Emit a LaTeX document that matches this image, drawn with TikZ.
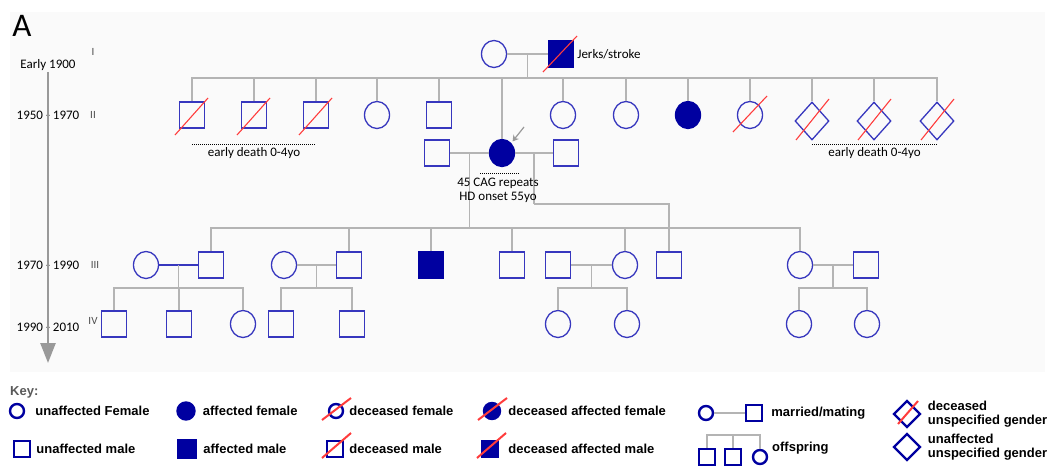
\documentclass[tikz,border=0pt]{standalone}
\usepackage{fontspec}
\setmainfont{Carlito}
\newfontfamily\keyfont{Liberation Sans}
\usetikzlibrary{shapes.geometric,arrows.meta,positioning}
\definecolor{symblue}{RGB}{55,55,190}
\definecolor{affblue}{RGB}{0,0,160}
\definecolor{slashred}{RGB}{255,60,60}
\definecolor{linegray}{RGB}{180,180,180}

\begin{document}
\begin{tikzpicture}[x=1pt,y=-1pt,
female/.style = {ellipse,draw=symblue,line width=1.3pt,inner sep=0pt,minimum width=25pt,minimum height=27pt},
male/.style = {rectangle,draw=symblue,line width=1.3pt,inner sep=0pt,minimum width=25pt,minimum height=26pt},
unknown/.style = {diamond,draw=symblue,line width=1.3pt,inner sep=0pt,minimum width=34pt,minimum height=38pt},
affected/.style = {fill=affblue,draw=affblue},
slash/.style = {slashred,line width=1.1pt},
tie/.style = {linegray,line width=1.4pt},
drop/.style = {to path={-| (\tikztotarget)}},
dotline/.style = {densely dotted,line width=1pt},
note/.style = {font=\fontsize{13}{14}\selectfont,align=center,inner sep=0pt},
era/.style = {font=\fontsize{13}{14}\selectfont,inner sep=1pt},
roman/.style = {font=\fontsize{11}{12}\selectfont,text=black!70},
kfemale/.style = {circle,draw=affblue,line width=2.4pt,inner sep=0pt,minimum size=14pt},
kmale/.style = {rectangle,draw=affblue,line width=2.4pt,inner sep=0pt,minimum size=16pt},
kunknown/.style = {diamond,draw=affblue,line width=2.4pt,inner sep=0pt,minimum size=27pt},
kaffected/.style = {fill=affblue},
kslash/.style = {slashred,line width=2pt},
keytext/.style = {font=\keyfont\bfseries\fontsize{13}{14}\selectfont,inner sep=0pt}]

\useasboundingbox (0,0) rectangle (1052,466);
\fill[black!2] (10,12) rectangle (1045,372);

\node[font=\fontsize{33}{36}\selectfont] (panel) at (22,26) {A};

% time line
\node[era] (early) at (48,65) {Early 1900};
\node[era] at (48,115) {1950 - 1970};
\node[era] at (48,265) {1970 - 1990};
\node[era] at (48,327) {1990 - 2010};
\coordinate (tlend) at (48,363);
\draw[black!40,line width=2.5pt,-{Triangle[width=15pt,length=20pt]}] (early.south) -- (tlend);
\node[roman] at (93,52) {I};
\node[roman] at (93,115) {II};
\node[roman] at (95,265) {III};
\node[roman] at (93,321) {IV};

% generation I
\node[female] (I1) at (494,54) {};
\node[male,affected] (I2) at (561,54) {};
\node[note,right=3pt of I2] {Jerks/stroke};

% generation II
\node[male] (II1) at (192,115) {};
\node[male] (II2) at (254,115) {};
\node[male] (II3) at (316,115) {};
\node[female] (II4) at (377,115) {};
\node[male] (II5) at (439,115) {};
\node[female,affected] (p) at (502,153) {};
\node[female] (II6) at (563,115) {};
\node[female] (II7) at (626,115) {};
\node[female,affected] (II8) at (688,115) {};
\node[female] (II9) at (750,115) {};
\node[unknown] (II10) at (812,121) {};
\node[unknown] (II11) at (874,121) {};
\node[unknown] (II12) at (937,121) {};
\node[male] (s1) at (437,153) {};
\node[male] (s2) at (566,153) {};

% generation III
\node[female] (III1) at (146,265) {};
\node[male] (III2) at (211,265) {};
\node[female] (III3) at (284,265) {};
\node[male] (III4) at (349,265) {};
\node[male,affected] (III5) at (431,265) {};
\node[male] (III6) at (512,265) {};
\node[male] (III7) at (558,265) {};
\node[female] (III8) at (625,265) {};
\node[male] (III9) at (669,265) {};
\node[female] (III10) at (800,265) {};
\node[male] (III11) at (866,265) {};

% generation IV
\node[male] (IV1) at (114,324) {};
\node[male] (IV2) at (179,324) {};
\node[female] (IV3) at (243,324) {};
\node[male] (IV4) at (281,324) {};
\node[male] (IV5) at (352,324) {};
\node[female] (IV6) at (558,324) {};
\node[female] (IV7) at (627,324) {};
\node[female] (IV8) at (799,324) {};
\node[female] (IV9) at (867,324) {};

% matings
\draw[tie] (I1) -- coordinate (mI) (I2);
\draw[tie] (s1) -- coordinate (mL) (p);
\draw[tie] (p) -- coordinate (mR) (s2);
\draw[tie,symblue] (III1) -- coordinate (m1) (III2);
\draw[tie] (III3) -- coordinate (m2) (III4);
\draw[tie] (III7) -- coordinate (m3) (III8);
\draw[tie] (III10) -- coordinate (m4) (III11);
\coordinate[below=24pt of mI] (sI);
\coordinate[below=75pt of mL] (sL);
\coordinate[below=51pt of mR] (sR);
\coordinate[below=23pt of m1] (o1);
\coordinate[below=23pt of m2] (o2);
\coordinate[below=23pt of m3] (o3);
\coordinate[below=23pt of m4] (o4);

% offspring
\path[tie]
(mI) edge (sI)
(sI) edge[drop] (II1.north) edge[drop] (II2.north) edge[drop] (II3.north)
edge[drop] (II4.north) edge[drop] (II5.north) edge[drop] (p.north)
edge[drop] (II6.north) edge[drop] (II7.north) edge[drop] (II8.north)
edge[drop] (II9.north) edge[drop] (II10.north) edge[drop] (II11.north)
edge[drop] (II12.north)
(mL) edge (sL)
(sL) edge[drop] (III2.north) edge[drop] (III4.north) edge[drop] (III5.north)
edge[drop] (III6.north) edge[drop] (III8.north) edge[drop] (III10.north)
(mR) edge (sR)
(sR) edge[drop] (III9.north)
(m1) edge (o1)
(o1) edge[drop] (IV1.north) edge[drop] (IV2.north) edge[drop] (IV3.north)
(m2) edge (o2)
(o2) edge[drop] (IV4.north) edge[drop] (IV5.north)
(m3) edge (o3)
(o3) edge[drop] (IV6.north) edge[drop] (IV7.north)
(m4) edge (o4)
(o4) edge[drop] (IV8.north) edge[drop] (IV9.north);

% deceased
\draw[slash] ([shift={(-18,18)}]I2.center) -- ([shift={(16,-18)}]I2.center);
\draw[slash] ([shift={(-17,20)}]II1.center) -- ([shift={(16,-17)}]II1.center);
\draw[slash] ([shift={(-17,20)}]II2.center) -- ([shift={(16,-17)}]II2.center);
\draw[slash] ([shift={(-17,20)}]II3.center) -- ([shift={(16,-17)}]II3.center);
\draw[slash] ([shift={(-17,17)}]II9.center) -- ([shift={(17,-19)}]II9.center);
\draw[slash] ([shift={(-16,19)}]II10.center) -- ([shift={(17,-22)}]II10.center);
\draw[slash] ([shift={(-16,19)}]II11.center) -- ([shift={(17,-22)}]II11.center);
\draw[slash] ([shift={(-16,19)}]II12.center) -- ([shift={(17,-22)}]II12.center);

% proband
\coordinate (pa) at (524,127);
\draw[black!40,line width=1.2pt,-{Stealth[length=6pt,width=7pt]},shorten >=2pt] (pa) -- (p.north east);
\draw[dotline] ([shift={(-22,20)}]p.center) -- ([shift={(18,20)}]p.center);
\node[note] (pnote) at (498,190) {45 CAG repeats\\HD onset 55yo};
\draw[dotline] ([yshift=-16pt]II1.south) -- node[note,below=2pt] {early death 0-4yo} ([yshift=-16pt]II3.south);
\draw[dotline] ([yshift=-4pt]II10.south) -- node[note,below=2pt] {early death 0-4yo} ([yshift=-4pt]II12.south);

% key
\node[keytext,text=black!65,anchor=west] (key) at (10,392) {Key:};
\node[kfemale] (k1) at (17,411) {};
\node[keytext,right=10pt of k1] {unaffected Female};
\node[kfemale,kaffected,minimum size=17pt] (k2) at (186,411) {};
\node[keytext,right=7pt of k2] {affected female};
\node[kfemale] (k3) at (336,411) {};
\node[keytext,right=5pt of k3] {deceased female};
\node[kfemale,kaffected,minimum size=16pt] (k4) at (492,411) {};
\node[keytext,right=7pt of k4] {deceased affected female};
\node[kfemale] (k5) at (706,413) {};
\node[kmale] (k6) at (754,413) {};
\node[keytext,right=8pt of k6] {married/mating};
\node[kunknown] (k7) at (907,414) {};
\node[keytext,right=6pt of k7,align=left] {deceased\\unspecified gender};
\node[kmale] (k8) at (22,449) {};
\node[keytext,right=5pt of k8] {unaffected male};
\node[kmale,kaffected,minimum size=18pt] (k9) at (187,449) {};
\node[keytext,right=6pt of k9] {affected male};
\node[kmale] (k10) at (335,449) {};
\node[keytext,right=5pt of k10] {deceased male};
\node[kmale,kaffected] (k11) at (490,449) {};
\node[keytext,right=9pt of k11] {deceased affected male};
\node[kmale] (ko1) at (707,457) {};
\node[kmale] (ko2) at (733,457) {};
\node[kfemale] (ko3) at (760,457) {};
\coordinate (ko) at (733,435);
\node[keytext,anchor=west] at (772,448) {offspring};
\node[kunknown] (k13) at (907,447) {};
\node[keytext,right=6pt of k13,align=left] {unaffected\\unspecified gender};
\draw[tie] (k5) -- (k6);
\path[tie] (ko) edge[drop] (ko1.north) edge[drop] (ko2.north) edge[drop] (ko3.north);
\draw[kslash] ([shift={(-14,9)}]k3.center) -- ([shift={(15,-13)}]k3.center);
\draw[kslash] ([shift={(-14,9)}]k4.center) -- ([shift={(15,-13)}]k4.center);
\draw[kslash] ([shift={(-13,9)}]k10.center) -- ([shift={(16,-16)}]k10.center);
\draw[kslash] ([shift={(-13,9)}]k11.center) -- ([shift={(16,-16)}]k11.center);
\draw[kslash] ([shift={(-9,10)}]k7.center) -- ([shift={(11,-13)}]k7.center);
\end{tikzpicture}
\end{document}
